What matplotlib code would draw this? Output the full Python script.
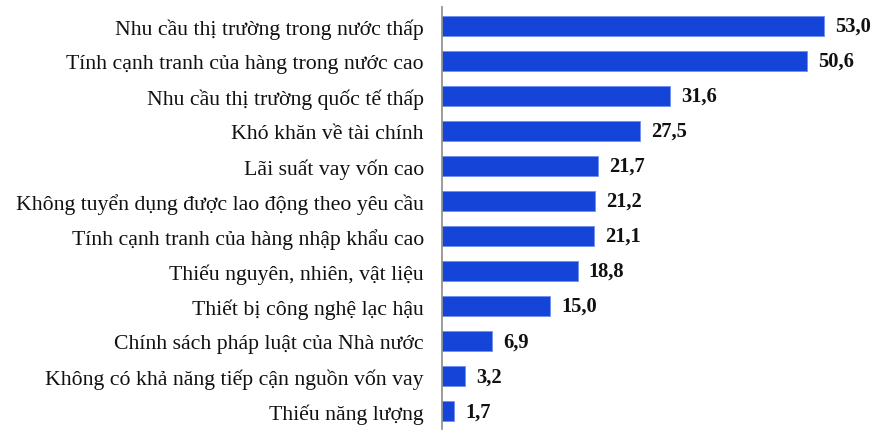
import matplotlib
matplotlib.use("Agg")
import matplotlib.pyplot as plt

categories = [
    "Nhu cầu thị trường trong nước thấp",
    "Tính cạnh tranh của hàng trong nước cao",
    "Nhu cầu thị trường quốc tế thấp",
    "Khó khăn về tài chính",
    "Lãi suất vay vốn cao",
    "Không tuyển dụng được lao động theo yêu cầu",
    "Tính cạnh tranh của hàng nhập khẩu cao",
    "Thiếu nguyên, nhiên, vật liệu",
    "Thiết bị công nghệ lạc hậu",
    "Chính sách pháp luật của Nhà nước",
    "Không có khả năng tiếp cận nguồn vốn vay",
    "Thiếu năng lượng",
]
values = [53.0, 50.6, 31.6, 27.5, 21.7, 21.2, 21.1, 18.8, 15.0, 6.9, 3.2, 1.7]

W, H = 894, 439
fig = plt.figure(figsize=(W / 100, H / 100), dpi=100)
ax = fig.add_axes([442 / W, (H - 430) / H, (880 - 442) / W, (430 - 8) / H])

y = list(range(len(categories)))
ax.barh(y, values, height=0.57, color="#1444d8", edgecolor="#6f8ff0", linewidth=0.6)
ax.set_xlim(0, 60.75)
ax.set_ylim(11.51, -0.54)

for yi, v in zip(y, values):
    ax.annotate(f"{v:.1f}".replace(".", ","), (v, yi), xytext=(8, 0),
                textcoords="offset points", va="center", ha="left",
                fontsize=14.8, fontweight="bold", family="Liberation Serif",
                color="#111111")

ax.set_yticks(y)
ax.set_yticklabels(categories, family="Liberation Serif", fontsize=15.7, color="#111111")
ax.tick_params(axis="y", length=0, pad=13)
ax.set_xticks([])
for s in ["top", "right", "bottom"]:
    ax.spines[s].set_visible(False)
ax.spines["left"].set_color("#8a8a8a")
ax.spines["left"].set_linewidth(1.2)

fig.savefig("out.png", dpi=100)
